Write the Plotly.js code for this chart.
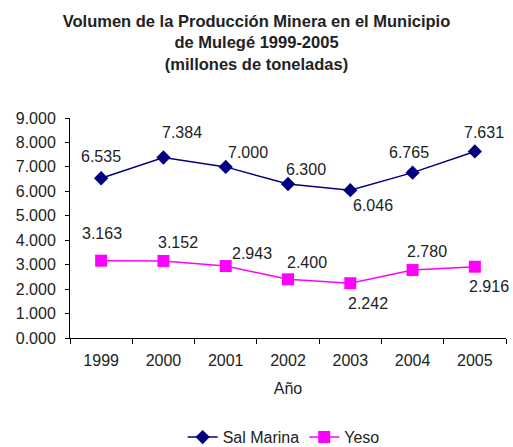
<!DOCTYPE html>
<html>
<head>
<meta charset="utf-8">
<script src="https://cdn.plot.ly/plotly-3.0.1.min.js"></script>
<style>html,body{margin:0;padding:0;background:#fff;}#chart{width:513px;height:447px;}</style>
</head>
<body>
<div id="chart"></div>
<script>
// Data
const years = ['1999', '2000', '2001', '2002', '2003', '2004', '2005'];
const salMarina = [6.535, 7.384, 7.000, 6.300, 6.046, 6.765, 7.631];
const yeso = [3.163, 3.152, 2.943, 2.400, 2.242, 2.780, 2.916];
const seriesNames = ['Sal Marina', 'Yeso'];

// Label offsets (style, px)
const salOffX = [0, 19, 22, 18, 23, -4, 9];
const salOffY = [22, 25, 14, 15, -15, 20, 19];
const yesoOffX = [1, 15, 26, 19, 18, 14, 14];
const yesoOffY = [27, 18, 13, 17, -20, 19, -20];

const FONT = 'Liberation Sans, Arial, sans-serif';
const TXT = '#222';
const FS = 16;

const traces = [
  {
    x: years, y: salMarina, name: seriesNames[0], type: 'scatter', mode: 'lines+markers',
    line: {color: '#000080', width: 1.5},
    marker: {symbol: 'diamond', size: 11, color: '#000080'}
  },
  {
    x: years, y: yeso, name: seriesNames[1], type: 'scatter', mode: 'lines+markers',
    line: {color: '#FF00FF', width: 1.5},
    marker: {symbol: 'square', size: 12, color: '#FF00FF'}
  }
];

const annotations = [];
function addLabels(vals, ox, oy) {
  vals.forEach((v, i) => {
    annotations.push({
      x: i, y: v, xref: 'x', yref: 'y',
      text: v.toFixed(3), showarrow: false,
      xanchor: 'center', yanchor: 'middle',
      xshift: ox[i], yshift: oy[i],
      font: {family: FONT, size: FS, color: TXT}
    });
  });
}
addLabels(salMarina, salOffX, salOffY);
addLabels(yeso, yesoOffX, yesoOffY);

const layout = {
  width: 513, height: 447,
  margin: {l: 70, r: 7, t: 118, b: 109},
  paper_bgcolor: '#fff', plot_bgcolor: '#fff',
  font: {family: FONT, size: FS, color: TXT},
  separators: '.,',
  title: {
    text: '<b>Volumen de la Producción Minera en el Municipio<br>de Mulegé 1999-2005<br>(millones de toneladas)</b>',
    x: 0.5, xref: 'container', xanchor: 'center',
    y: 0.94, yref: 'container', yanchor: 'top',
    font: {family: FONT, size: 16.5, color: TXT}
  },
  xaxis: {
    type: 'category', range: [-0.5, 6.5],
    showline: true, linecolor: '#000', linewidth: 1,
    ticks: 'outside', tickson: 'boundaries', ticklen: 5, tickcolor: '#000',
    ticklabelstandoff: 8,
    showgrid: false, zeroline: false,
    tickfont: {family: FONT, size: FS, color: TXT},
    title: {text: 'Año', font: {family: FONT, size: FS, color: TXT}, standoff: 14}
  },
  yaxis: {
    range: [0, 9], dtick: 1, tickformat: '.3f',
    showline: true, linecolor: '#000', linewidth: 1,
    ticks: 'outside', ticklen: 4, tickcolor: '#000',
    ticklabelstandoff: 6,
    showgrid: false, zeroline: false,
    tickfont: {family: FONT, size: FS, color: TXT}
  },
  showlegend: true,
  legend: {
    orientation: 'h', x: 0.49, xanchor: 'center', xref: 'paper',
    y: 0.022, yref: 'container', yanchor: 'middle',
    font: {family: FONT, size: FS, color: TXT}
  },
  annotations: annotations
};

Plotly.newPlot('chart', traces, layout, {displayModeBar: false, staticPlot: true});
</script>
</body>
</html>
